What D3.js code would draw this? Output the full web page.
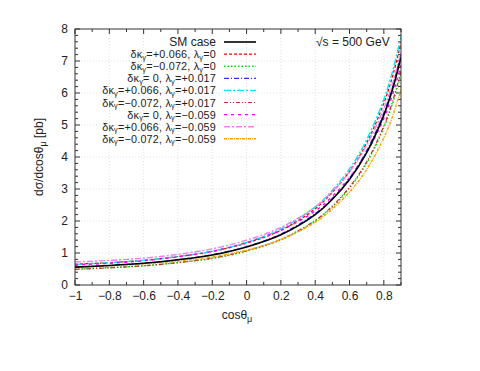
<!DOCTYPE html>
<html><head><meta charset="utf-8">
<script src="https://cdn.jsdelivr.net/npm/d3@7"></script>
<style>body{margin:0;background:#fff}svg{display:block}text{font-family:"Liberation Sans",Arial,sans-serif;fill:#222}</style>
</head><body><svg id="c" width="480" height="371"></svg>
<script>
const cosTheta = [-1, -0.8, -0.6, -0.4, -0.2, 0, 0.2, 0.4, 0.5, 0.6, 0.7, 0.8, 0.85, 0.9];
const smCase   = [0.56, 0.61, 0.68, 0.79, 0.94, 1.19, 1.57, 2.20, 2.68, 3.30, 4.14, 5.31, 6.10, 7.12];
const kP_l0    = [0.65, 0.70, 0.77, 0.89, 1.05, 1.31, 1.71, 2.38, 2.90, 3.55, 4.44, 5.68, 6.51, 7.58];
const kM_l0    = [0.49, 0.54, 0.60, 0.70, 0.83, 1.06, 1.41, 2.00, 2.44, 3.03, 3.81, 4.92, 5.66, 6.62];
const k0_lP    = [0.56, 0.61, 0.68, 0.79, 0.95, 1.20, 1.59, 2.23, 2.71, 3.34, 4.20, 5.38, 6.19, 7.23];
const kP_lP    = [0.64, 0.70, 0.77, 0.89, 1.06, 1.33, 1.75, 2.44, 2.96, 3.63, 4.54, 5.80, 6.66, 7.76];
const kM_lP    = [0.49, 0.54, 0.60, 0.70, 0.84, 1.07, 1.43, 2.02, 2.47, 3.06, 3.85, 4.97, 5.72, 6.69];
const k0_lM    = [0.63, 0.68, 0.76, 0.88, 1.05, 1.33, 1.71, 2.31, 2.77, 3.36, 4.14, 5.21, 5.94, 6.87];
const kP_lM    = [0.72, 0.77, 0.84, 0.96, 1.13, 1.40, 1.80, 2.44, 2.92, 3.54, 4.37, 5.51, 6.28, 7.26];
const kM_lM    = [0.56, 0.60, 0.66, 0.75, 0.88, 1.09, 1.42, 1.96, 2.38, 2.90, 3.61, 4.60, 5.26, 6.12];
const xTicks = [-1, -0.8, -0.6, -0.4, -0.2, 0, 0.2, 0.4, 0.6, 0.8];
const yTicks = [0, 1, 2, 3, 4, 5, 6, 7, 8];
// legend parts: [dk, dl] ; null => SM case
const legendParts = [null, ["+0.066","0"], ["\u22120.072","0"], [" 0","+0.017"], ["+0.066","+0.017"], ["\u22120.072","+0.017"], [" 0","\u22120.059"], ["+0.066","\u22120.059"], ["\u22120.072","\u22120.059"]];

const series = [
  {v: smCase, c:"#000000", d:null, w:1.6},
  {v: kP_l0, c:"#ff0000", d:"3,2", w:1.3},
  {v: kM_l0, c:"#00e000", d:"1.5,2", w:1.5},
  {v: k0_lP, c:"#3030ff", d:"5,2,1,2", w:1.2},
  {v: kP_lP, c:"#00e8f0", d:"7,2,2,2", w:1.4},
  {v: kM_lP, c:"#c03030", d:"4,2,1,2,1,2", w:1.2},
  {v: k0_lM, c:"#ff00ff", d:"3,4", w:1.4},
  {v: kP_lM, c:"#f080f0", d:"6,2,2,2", w:1.4},
  {v: kM_lM, c:"#ffa500", d:"3,1,1,1", w:1.4}
];

const L=75, R=401, T=29, B=285;
const svg = d3.select("#c");
const x = d3.scaleLinear().domain([-1,0.9]).range([L,R]);
const y = d3.scaleLinear().domain([0,8]).range([B,T]);

// grid
const g = svg.append("g");
g.selectAll(".gx").data(xTicks.filter(t=>t>-1)).enter().append("line")
  .attr("x1",d=>x(d)).attr("x2",d=>x(d)).attr("y1",T).attr("y2",B)
  .attr("stroke","#ccc").attr("stroke-width",0.6).attr("stroke-dasharray","1,2");
g.selectAll(".gy").data(yTicks.filter(t=>t>0&&t<8)).enter().append("line")
  .attr("y1",d=>y(d)).attr("y2",d=>y(d)).attr("x1",L).attr("x2",R)
  .attr("stroke","#ccc").attr("stroke-width",0.6).attr("stroke-dasharray","1,2");

// ticks on all four sides
const xMinor = d3.range(-10,10).map(i=>i/10);
const yMinor = d3.range(0,41).map(i=>i/5);
const a = svg.append("g").attr("stroke","#333").attr("stroke-width",1);
xMinor.forEach(t=>{
  const major = Math.abs(t*5-Math.round(t*5))<1e-6;
  const len = major?5:3;
  a.append("line").attr("x1",x(t)).attr("x2",x(t)).attr("y1",B).attr("y2",B-len);
  a.append("line").attr("x1",x(t)).attr("x2",x(t)).attr("y1",T).attr("y2",T+len);
});
yMinor.forEach(t=>{
  const major = Math.abs(t-Math.round(t))<1e-6;
  const len = major?5:3;
  a.append("line").attr("y1",y(t)).attr("y2",y(t)).attr("x1",L).attr("x2",L+len);
  a.append("line").attr("y1",y(t)).attr("y2",y(t)).attr("x1",R).attr("x2",R-len);
});

const xAxis = svg.append("g").attr("transform",`translate(0,${B})`)
  .call(d3.axisBottom(x).tickValues(xTicks).tickSize(0).tickPadding(6).tickFormat(d=>d===0?"0":d3.format("")(d)));
xAxis.select(".domain").remove();
xAxis.selectAll("text").attr("font-size",12).style("font-family","Liberation Sans, Arial, sans-serif").attr("fill","#222");
const yAxis = svg.append("g").attr("transform",`translate(${L},0)`)
  .call(d3.axisLeft(y).tickValues(yTicks).tickSize(0).tickPadding(7));
yAxis.select(".domain").remove();
yAxis.selectAll("text").attr("font-size",12).style("font-family","Liberation Sans, Arial, sans-serif").attr("fill","#222");

// curves
svg.append("clipPath").attr("id","clip").append("rect").attr("x",L).attr("y",T).attr("width",R-L).attr("height",B-T);
const line = d3.line().x((d,i)=>x(cosTheta[i])).y(d=>y(d)).curve(d3.curveCatmullRom.alpha(0.5));
const cg = svg.append("g").attr("clip-path","url(#clip)");
series.slice(1).concat([series[0]]).forEach(s=>{
  cg.append("path").attr("d",line(s.v)).attr("fill","none").attr("stroke",s.c)
    .attr("stroke-width",s.w).attr("stroke-dasharray",s.d);
});
// frame
svg.append("rect").attr("x",L).attr("y",T).attr("width",R-L).attr("height",B-T)
  .attr("fill","none").attr("stroke","#333").attr("stroke-width",1);

// legend
const lg = svg.append("g");
const y0 = 42, dy = 12.1;
legendParts.forEach((p,i)=>{
  const yy = y0 + i*dy;
  const t = lg.append("text").attr("x",216).attr("y",yy+4).attr("text-anchor","end")
    .attr("font-size",i===0?12:10.8).attr("letter-spacing",i===0?0:0.2);
  if(!p){ t.text("SM case"); }
  else {
    t.append("tspan").text("\u03b4\u03ba");
    t.append("tspan").attr("dy",1.5).attr("font-size",7.5).text("\u03b3");
    t.append("tspan").attr("dy",-1.5).text("="+p[0]+", \u03bb");
    t.append("tspan").attr("dy",1.5).attr("font-size",7.5).text("\u03b3");
    t.append("tspan").attr("dy",-1.5).text("="+p[1]);
  }
  const s = series[i];
  lg.append("line").attr("x1",224).attr("x2",256).attr("y1",yy).attr("y2",yy)
    .attr("stroke",s.c).attr("stroke-width",s.w).attr("stroke-dasharray",s.d);
});

svg.append("text").attr("x",316).attr("y",46).attr("font-size",12).text("\u221as = 500 GeV");

// axis titles
const xt = svg.append("text").attr("x",237).attr("y",319).attr("text-anchor","middle").attr("font-size",12);
xt.append("tspan").text("cos\u03b8");
xt.append("tspan").attr("dy",3).attr("font-size",9).text("\u03bc");
const yt = svg.append("text").attr("transform","translate(43,157) rotate(-90)").attr("text-anchor","middle").attr("font-size",12);
yt.append("tspan").text("d\u03c3/dcos\u03b8");
yt.append("tspan").attr("dy",3).attr("font-size",9).text("\u03bc");
yt.append("tspan").attr("dy",-3).text(" [pb]");
</script></body></html>
